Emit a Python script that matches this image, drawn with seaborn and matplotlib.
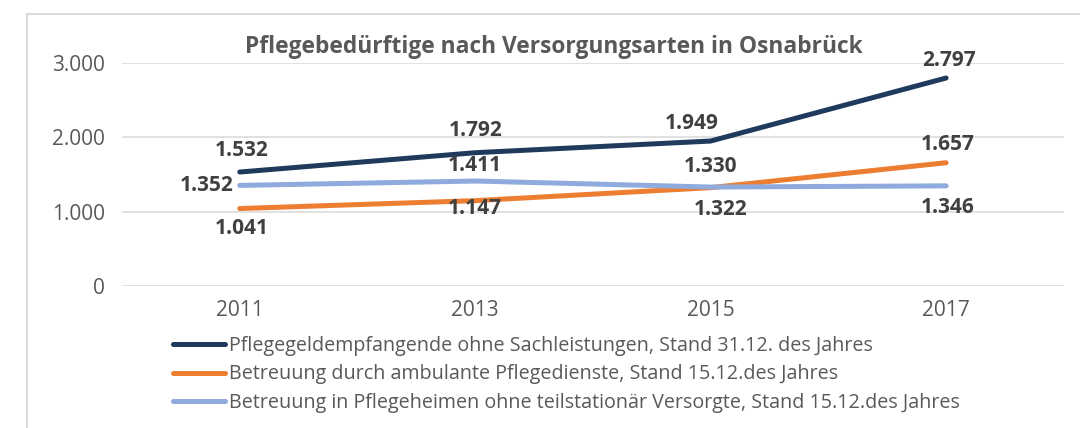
import pandas as pd
import matplotlib.pyplot as plt
import seaborn as sns
from matplotlib.patches import Rectangle

# Data
years = [2011, 2013, 2015, 2017]
pflegegeld = [1532, 1792, 1949, 2797]
ambulant = [1041, 1147, 1322, 1657]
heime = [1352, 1411, 1330, 1346]

series_names = [
    "Pflegegeldempfangende ohne Sachleistungen, Stand 31.12. des Jahres",
    "Betreuung durch ambulante Pflegedienste, Stand 15.12.des Jahres",
    "Betreuung in Pflegeheimen ohne teilstationär Versorgte, Stand 15.12.des Jahres",
]
colors = ["#1F3A5C", "#ED7D31", "#8FAADC"]

# label placement per point: (dx px, dy px) offsets
label_offsets = [
    [(2, 22), (0, 22), (-19, 18), (3, 18)],
    [(2, -20), (0, -8), (10, -22), (2, 18)],
    [(-6, 0), (0, 16), (0, 21), (2, -22)],
]

df = pd.DataFrame({
    "Jahr": years * 3,
    "Wert": pflegegeld + ambulant + heime,
    "Reihe": [series_names[0]] * 4 + [series_names[1]] * 4 + [series_names[2]] * 4,
})

sns.set_theme(style="white")
plt.rcParams["font.family"] = ["Open Sans", "DejaVu Sans"]

fig = plt.figure(figsize=(10.8, 4.28), dpi=100)
ax = fig.add_axes([0.113, 0.332, 0.872, 0.521])

sns.lineplot(data=df, x="Jahr", y="Wert", hue="Reihe", palette=colors,
             linewidth=3.6, ax=ax, legend=True, solid_capstyle="round")

ax.set_xlim(2010, 2018)
ax.set_ylim(0, 3000)
ax.set_yticks([0, 1000, 2000, 3000])
ax.set_yticklabels(["0", "1.000", "2.000", "3.000"])
ax.set_xticks(years)
ax.set_xticklabels([str(y) for y in years])
ax.set_xlabel("")
ax.set_ylabel("")
ax.grid(axis="y", color="#D9D9D9", linewidth=1.1)
ax.set_axisbelow(True)
for s in ax.spines.values():
    s.set_visible(False)
ax.tick_params(axis="y", length=0, pad=12, labelsize=15, labelcolor="#595959")
ax.tick_params(axis="x", length=0, pad=10, labelsize=15, labelcolor="#595959")

# data labels
for vals, offs in zip([pflegegeld, ambulant, heime], label_offsets):
    for x, v, (dx, dy) in zip(years, vals, offs):
        ha = "right" if dy == 0 else "center"
        ax.annotate(f"{v / 1000:.3f}", (x, v), xytext=(dx * 0.72, dy * 0.72),
                    textcoords="offset points", ha=ha, va="center",
                    fontsize=15, fontweight="bold", color="#404040")

fig.text(554 / 1080, 1 - 47 / 428, "Pflegebedürftige nach Versorgungsarten in Osnabrück",
         fontsize=16.4, fontweight="bold", color="#595959", ha="center", va="center")

handles, labels = ax.get_legend_handles_labels()
ax.get_legend().remove()
leg = fig.legend(handles, labels, loc="upper left", bbox_to_anchor=(0.151, 0.238),
                 frameon=False, fontsize=14.2, handlelength=2.65, handletextpad=0.2,
                 labelspacing=0.43, borderpad=0)
for t in leg.get_texts():
    t.set_color("#595959")

# outer chart frame (left and top visible)
fig.patches.append(Rectangle((27 / 1080, -0.1), 1.2, 1 - 14 / 428 + 0.1,
                             transform=fig.transFigure, fill=False,
                             edgecolor="#D9D9D9", linewidth=1.5))

fig.savefig("out.png", dpi=100)
